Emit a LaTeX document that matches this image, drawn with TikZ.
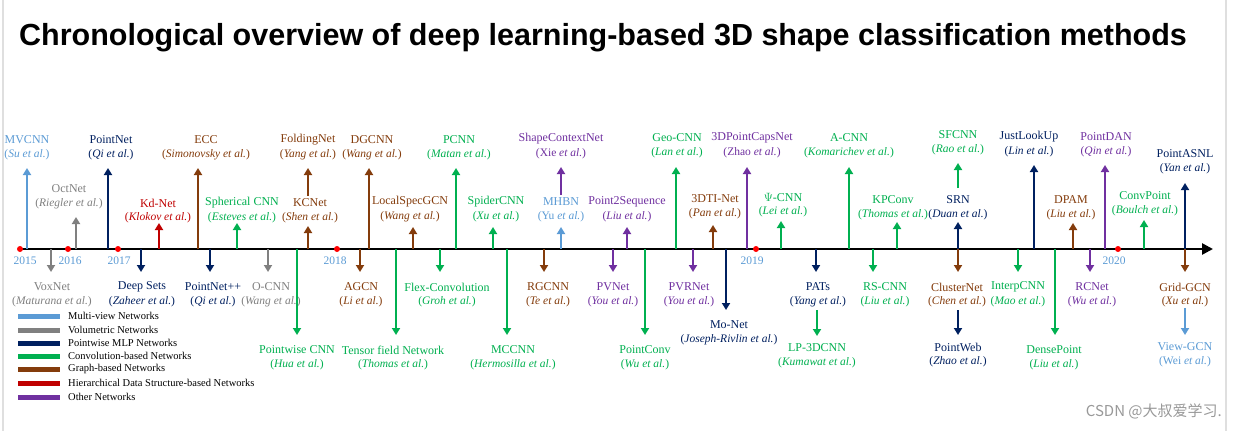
\documentclass[tikz,border=0pt]{standalone}
\usepackage{fontspec}
\setmainfont{Liberation Serif}
\newfontfamily\tsans{Liberation Sans}
\newfontfamily\cjk{Noto Sans CJK SC}
\usetikzlibrary{arrows.meta}
\definecolor{mv}{RGB}{91,155,213}
\definecolor{vol}{RGB}{128,128,128}
\definecolor{pw}{RGB}{0,32,96}
\definecolor{conv}{RGB}{0,176,80}
\definecolor{graph}{RGB}{132,60,12}
\definecolor{hier}{RGB}{192,0,0}
\definecolor{oth}{RGB}{112,48,160}
\tikzset{
  arr/.style={line width=2pt,-{Triangle[width=8pt,length=7pt]}},
  nm/.style={font=\fontsize{12}{12}\selectfont,inner sep=0pt,anchor=center},
  au/.style={font=\fontsize{11.5}{12}\selectfont,inner sep=0pt,anchor=center},
  yr/.style={font=\fontsize{11.5}{12}\selectfont,text=mv,inner sep=0pt},
  dot/.style={circle,fill=red,inner sep=0pt,minimum size=6pt},
  leg/.style={line width=5pt},
  legt/.style={font=\fontsize{10.5}{11}\selectfont,anchor=west,inner sep=0pt}
}
% up arrow from axis: id, x, tip, name, author, colour, label x, name y
\newcommand\mup[8]{%
  \coordinate (#1b) at (#2,249);
  \coordinate (#1t) at (#2,#3);
  \draw[arr,#6] (#1b) -- (#1t);
  \node[nm,text=#6] (#1n) at (#7,#8) {#4};
  \node[au,text=#6] (#1a) at (#7,#8+15) {#5};}
\newcommand\mdn[7]{%
  \coordinate (#1b) at (#2,249);
  \coordinate (#1t) at (#2,#3);
  \draw[arr,#6] (#1b) -- (#1t);
  \node[nm,text=#6] (#1n) at (#7,#3+15) {#4};
  \node[au,text=#6] (#1a) at (#7,#3+30) {#5};}
\newcommand\mupS[7]{%
  \coordinate (#1b) at (#2,#3);
  \coordinate (#1t) at (#2,#4);
  \draw[arr,#7] (#1b) -- (#1t);
  \node[nm,text=#7] (#1n) at (#2,#4-28) {#5};
  \node[au,text=#7] (#1a) at (#2,#4-13) {#6};}
\newcommand\mdnS[7]{%
  \coordinate (#1b) at (#2,#3);
  \coordinate (#1t) at (#2,#4);
  \draw[arr,#7] (#1b) -- (#1t);
  \node[nm,text=#7] (#1n) at (#2,#4+12) {#5};
  \node[au,text=#7] (#1a) at (#2,#4+27) {#6};}
\newcommand\ea[1]{(\textit{#1 et al.})}
\begin{document}
\begin{tikzpicture}[x=1pt,y=-1pt]
\useasboundingbox (0,0) rectangle (1234,431);
\fill[white] (0,0) rectangle (1234,431);
\draw[gray!25,line width=1.5pt] (3,0) -- (3,431) (1226,0) -- (1226,431);
\node[font=\tsans\bfseries\fontsize{30.5}{33}\selectfont,anchor=west,inner sep=0pt] (title) at (19,38) {Chronological overview of deep learning-based 3D shape classification methods};
% axis
\coordinate (a0) at (20,249);
\coordinate (a1) at (1213,249);
\draw[line width=2.5pt,-{Triangle[width=11pt,length=11pt]}] (a0) -- (a1);
\foreach \x/\y/\lx in {20/2015/25,68/2016/70,118/2017/119,337/2018/335,756/2019/752,1118/2020/1114}{
  \node[dot] (d\y) at (\x,249) {};
  \node[yr] (y\y) at (\lx,261) {\y};
}
% up arrows
\mup{mvcnn}{27}{168}{MVCNN}{\ea{Su}}{mv}{27}{140}
\mup{oct}{76}{217}{OctNet}{\ea{Riegler}}{vol}{69}{189}
\mup{pn}{108}{168}{PointNet}{\ea{Qi}}{pw}{111}{140}
\mup{kd}{159}{223}{Kd-Net}{\ea{Klokov}}{hier}{158}{203}
\mup{ecc}{198}{168}{ECC}{\ea{Simonovsky}}{graph}{206}{140}
\mup{sph}{237}{223}{Spherical CNN}{\ea{Esteves}}{conv}{242}{203}
\mup{kc}{308}{226}{KCNet}{\ea{Shen}}{graph}{310}{203}
\mupS{fold}{308}{196}{168}{FoldingNet}{\ea{Yang}}{graph}
\mup{dg}{369}{168}{DGCNN}{\ea{Wang}}{graph}{372}{140}
\mup{lsg}{413}{227}{LocalSpecGCN}{\ea{Wang}}{graph}{410}{202}
\mup{pcnn}{456}{168}{PCNN}{\ea{Matan}}{conv}{459}{140}
\mup{spider}{493}{227}{SpiderCNN}{\ea{Xu}}{conv}{496}{202}
\mup{mhbn}{561}{227}{MHBN}{(Yu \textit{et al.})}{mv}{561}{202}
\mupS{scn}{561}{195}{167}{ShapeContextNet}{(Xie \textit{et al.})}{oth}
\mup{p2s}{627}{227}{Point2Sequence}{\ea{Liu}}{oth}{627}{202}
\mup{geo}{676}{167}{Geo-CNN}{\ea{Lan}}{conv}{677}{138}
\mup{dti}{713}{225}{3DTI-Net}{\ea{Pan}}{graph}{715}{199}
\mup{caps}{747}{167}{3DPointCapsNet}{(Zhao \textit{et al.})}{oth}{752}{138}
\mup{psi}{781}{221}{$\Psi$-CNN}{\ea{Lei}}{conv}{783}{197}
\mup{acnn}{849}{167}{A-CNN}{\ea{Komarichev}}{conv}{849}{138}
\mup{kp}{897}{222}{KPConv}{\ea{Thomas}}{conv}{893}{200}
\mup{srn}{958}{222}{SRN}{\ea{Duan}}{pw}{958}{200}
\mupS{sfc}{958}{188}{163}{SFCNN}{\ea{Rao}}{conv}
\mup{jlu}{1034}{165}{JustLookUp}{\ea{Lin}}{pw}{1029}{137}
\mup{dpam}{1073}{223}{DPAM}{\ea{Liu}}{graph}{1071}{200}
\mup{pdan}{1105}{165}{PointDAN}{\ea{Qin}}{oth}{1106}{137}
\mup{cvp}{1144}{220}{ConvPoint}{\ea{Boulch}}{conv}{1145}{196}
\mup{asnl}{1185}{183}{PointASNL}{\ea{Yan}}{pw}{1185}{154}
% down arrows
\mdn{vox}{51}{272}{VoxNet}{\ea{Maturana}}{vol}{52}
\mdn{ds}{141}{272}{Deep Sets}{\ea{Zaheer}}{pw}{142}
\mdn{pnpp}{210}{272}{PointNet++}{\ea{Qi}}{pw}{213}
\mdn{ocnn}{268}{272}{O-CNN}{\ea{Wang}}{vol}{271}
\mdn{pwc}{297}{335}{Pointwise CNN}{\ea{Hua}}{conv}{297}
\mdn{agcn}{360}{272}{AGCN}{\ea{Li}}{graph}{361}
\mdn{tfn}{396}{335}{Tensor field Network}{\ea{Thomas}}{conv}{393}
\mdn{flex}{440}{272}{Flex-Convolution}{\ea{Groh}}{conv}{447}
\mdn{mcc}{507}{335}{MCCNN}{\ea{Hermosilla}}{conv}{513}
\mdn{rg}{544}{272}{RGCNN}{\ea{Te}}{graph}{548}
\mdn{pv}{613}{272}{PVNet}{\ea{You}}{oth}{613}
\mdn{pconv}{645}{335}{PointConv}{\ea{Wu}}{conv}{645}
\mdn{pvr}{693}{272}{PVRNet}{\ea{You}}{oth}{689}
\mdn{mo}{726}{310}{Mo-Net}{\ea{Joseph-Rivlin}}{pw}{729}
\mdn{pats}{816}{272}{PATs}{\ea{Yang}}{pw}{818}
\mdnS{lp}{817}{310}{336}{LP-3DCNN}{\ea{Kumawat}}{conv}
\mdn{rs}{873}{272}{RS-CNN}{\ea{Liu}}{conv}{885}
\mdn{cl}{958}{272}{ClusterNet}{\ea{Chen}}{graph}{957}
\mdnS{pweb}{958}{310}{335}{PointWeb}{\ea{Zhao}}{pw}
\mdn{interp}{1018}{272}{InterpCNN}{\ea{Mao}}{conv}{1018}
\mdn{dense}{1055}{335}{DensePoint}{\ea{Liu}}{conv}{1054}
\mdn{rc}{1090}{272}{RCNet}{\ea{Wu}}{oth}{1092}
\mdn{grid}{1185}{272}{Grid-GCN}{\ea{Xu}}{graph}{1185}
\mdnS{view}{1185}{308}{335}{View-GCN}{(Wei \textit{et al.})}{mv}
% legend
\foreach \c/\t/\y in {mv/Multi-view Networks/316,vol/Volumetric Networks/330,pw/Pointwise MLP Networks/343,conv/Convolution-based Networks/356,graph/Graph-based Networks/369,hier/Hierarchical Data Structure-based Networks/383,oth/Other Networks/397}{
  \coordinate (l\c a) at (18,\y);
  \coordinate (l\c b) at (60,\y);
  \draw[leg,\c] (l\c a) -- (l\c b);
  \node[legt] (lt\c) at (68,\y) {\t};
}
\node[font=\cjk\fontsize{15}{16}\selectfont,text=gray!80,anchor=east,inner sep=0pt] (wm) at (1222,411) {CSDN @大叔爱学习.};
\end{tikzpicture}
\end{document}
